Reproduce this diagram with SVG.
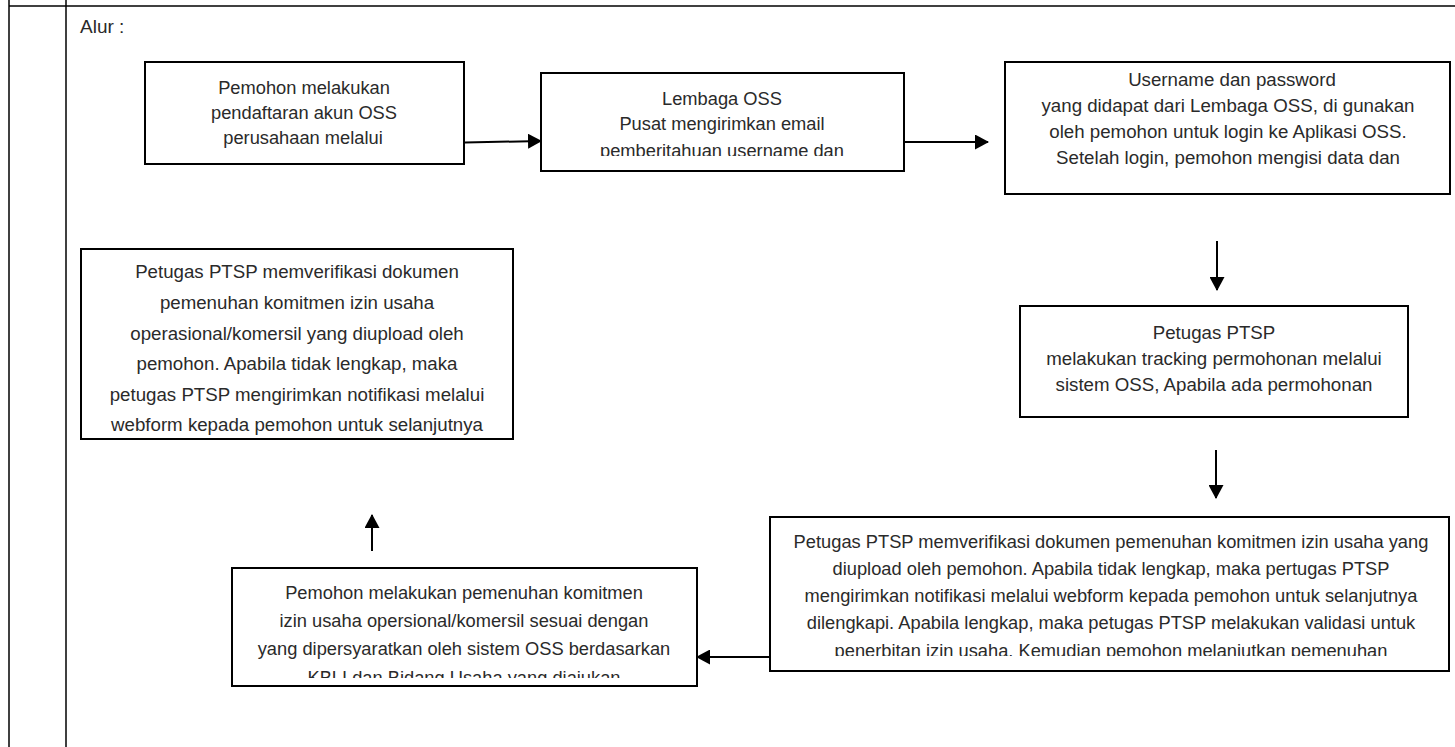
<svg xmlns="http://www.w3.org/2000/svg" width="1455" height="747" viewBox="0 0 1455 747">
<style>
.tbl{stroke:#000;stroke-width:1.5;fill:none}
.box{fill:#fff;stroke:#000;stroke-width:2}
.t{font-family:"Liberation Sans",Arial,sans-serif;font-size:18.3px;fill:#2a2a2a;text-anchor:middle}
.m{font-size:18.7px}
.alur{font-family:"Liberation Sans",Arial,sans-serif;font-size:19px;fill:#2a2a2a}
.c{stroke:#000;stroke-width:2;fill:none;marker-end:url(#ah)}
</style>
<defs>
<marker id="ah" viewBox="0 0 14 15" refX="13" refY="7.5" markerWidth="14" markerHeight="15" markerUnits="userSpaceOnUse" orient="auto">
<path d="M0,0 L14,7.5 L0,15 Z" fill="#000"/>
</marker>
<clipPath id="cp2"><rect x="543" y="75" width="359" height="81"/></clipPath>
<clipPath id="cpB"><rect x="772" y="519" width="675" height="137"/></clipPath>
<clipPath id="cp6"><rect x="234" y="570" width="461" height="108"/></clipPath>
</defs>
<rect width="1455" height="747" fill="#fff"/>
<g id="table">
<line class="tbl" x1="9" y1="6" x2="1455" y2="6"/>
<line class="tbl" x1="9" y1="0" x2="9" y2="747"/>
<line class="tbl" x1="66" y1="0" x2="66" y2="747"/>
<text class="alur" x="80" y="33">Alur :</text>
</g>
<g id="connectors">
<line class="c" x1="465" y1="142.5" x2="541" y2="141"/>
<line class="c" x1="904" y1="142" x2="988" y2="142"/>
<line class="c" x1="1217" y1="241" x2="1217" y2="290"/>
<line class="c" x1="1216" y1="450" x2="1216" y2="498"/>
<line class="c" x1="770" y1="657" x2="697" y2="657"/>
<line class="c" x1="372" y1="551" x2="372" y2="515"/>
</g>
<g id="n1">
<rect class="box" x="145" y="62" width="319" height="102"/>
<text class="t" x="304" y="94">Pemohon melakukan</text>
<text class="t" x="304" y="119">pendaftaran akun OSS</text>
<text class="t" x="303" y="144">perusahaan melalui</text>
</g>
<g id="n2">
<rect class="box" x="541" y="73" width="363" height="98"/>
<g clip-path="url(#cp2)">
<text class="t" x="722" y="105">Lembaga OSS</text>
<text class="t" x="722" y="130">Pusat mengirimkan email</text>
<text class="t" x="722" y="157">pemberitahuan username dan</text>
</g>
</g>
<g id="n3">
<rect class="box" x="1005" y="62" width="445" height="132"/>
<text class="t m" x="1232" y="86">Username dan password</text>
<text class="t m" x="1228" y="112">yang didapat dari Lembaga OSS, di gunakan</text>
<text class="t m" x="1228" y="138">oleh pemohon untuk login ke Aplikasi OSS.</text>
<text class="t m" x="1228" y="164">Setelah login, pemohon mengisi data dan</text>
</g>
<g id="n4">
<rect class="box" x="1020" y="306" width="388" height="111"/>
<text class="t m" x="1214" y="339">Petugas PTSP</text>
<text class="t m" x="1214" y="365">melakukan tracking permohonan melalui</text>
<text class="t m" x="1214" y="391">sistem OSS, Apabila ada permohonan</text>
</g>
<g id="n5">
<rect class="box" x="770" y="517" width="679" height="154"/>
<g clip-path="url(#cpB)">
<text class="t" x="1111" y="548">Petugas PTSP memverifikasi dokumen pemenuhan komitmen izin usaha yang</text>
<text class="t" x="1111" y="575">diupload oleh pemohon. Apabila tidak lengkap, maka pertugas PTSP</text>
<text class="t" x="1111" y="602">mengirimkan notifikasi melalui webform kepada pemohon untuk selanjutnya</text>
<text class="t" x="1111" y="629">dilengkapi. Apabila lengkap, maka petugas PTSP melakukan validasi untuk</text>
<text class="t" x="1111" y="657">penerbitan izin usaha. Kemudian pemohon melanjutkan pemenuhan</text>
</g>
</g>
<g id="n6">
<rect class="box" x="232" y="568" width="465" height="118"/>
<g clip-path="url(#cp6)">
<text class="t" x="464" y="599">Pemohon melakukan pemenuhan komitmen</text>
<text class="t" x="464" y="627">izin usaha opersional/komersil sesuai dengan</text>
<text class="t" x="464" y="655">yang dipersyaratkan oleh sistem OSS berdasarkan</text>
<text class="t" x="464" y="684">KBLI dan Bidang Usaha yang diajukan</text>
</g>
</g>
<g id="n7">
<rect class="box" x="81" y="249" width="432" height="190"/>
<text class="t m" x="297" y="278">Petugas PTSP memverifikasi dokumen</text>
<text class="t m" x="297" y="309">pemenuhan komitmen izin usaha</text>
<text class="t m" x="297" y="340">operasional/komersil yang diupload oleh</text>
<text class="t m" x="297" y="370">pemohon. Apabila tidak lengkap, maka</text>
<text class="t m" x="297" y="401">petugas PTSP mengirimkan notifikasi melalui</text>
<text class="t m" x="297" y="431">webform kepada pemohon untuk selanjutnya</text>
</g>
</svg>
